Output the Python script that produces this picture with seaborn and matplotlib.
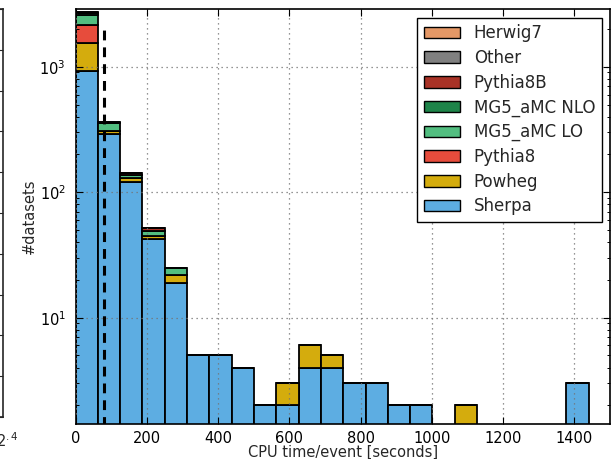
import numpy as np
import pandas as pd
import matplotlib
matplotlib.use("Agg")
import matplotlib.pyplot as plt
import seaborn as sns

# ---- data ----
bin_lo, bin_hi, n_bins = 0.0, 1440.0, 23
generators = ["Herwig7", "Other", "Pythia8B", "MG5_aMC NLO",
              "MG5_aMC LO", "Pythia8", "Powheg", "Sherpa"]
colors = ["#E59866", "#808080", "#A93226", "#1E8449",
          "#52BE80", "#E74C3C", "#D4AC0D", "#5DADE2"]

sherpa   = [920, 290, 120, 42, 19, 5, 5, 4, 2, 2, 4, 4, 3, 3, 2, 2, 0, 0, 0, 0, 0, 0, 3]
powheg   = [640, 15, 9, 3, 3, 0, 0, 0, 0, 1, 2, 1, 0, 0, 0, 0, 0, 2, 0, 0, 0, 0, 0]
pythia8  = [590, 0, 0, 0, 0, 0, 0, 0, 0, 0, 0, 0, 0, 0, 0, 0, 0, 0, 0, 0, 0, 0, 0]
mg5_lo   = [430, 50, 8, 4, 3, 0, 0, 0, 0, 0, 0, 0, 0, 0, 0, 0, 0, 0, 0, 0, 0, 0, 0]
mg5_nlo  = [110, 3, 0, 0, 0, 0, 0, 0, 0, 0, 0, 0, 0, 0, 0, 0, 0, 0, 0, 0, 0, 0, 0]
pythia8b = [15, 0, 5, 3, 0, 0, 0, 0, 0, 0, 0, 0, 0, 0, 0, 0, 0, 0, 0, 0, 0, 0, 0]
other    = [25, 2, 0, 0, 0, 0, 0, 0, 0, 0, 0, 0, 0, 0, 0, 0, 0, 0, 0, 0, 0, 0, 0]
herwig7  = [0] * 23

mean_cpu = 80.0
mean_line_top = 2000.0

counts = {"Herwig7": herwig7, "Other": other, "Pythia8B": pythia8b,
          "MG5_aMC NLO": mg5_nlo, "MG5_aMC LO": mg5_lo, "Pythia8": pythia8,
          "Powheg": powheg, "Sherpa": sherpa}

edges = np.linspace(bin_lo, bin_hi, n_bins + 1)
centers = 0.5 * (edges[:-1] + edges[1:])
rows = []
for g in generators:
    for c, n in zip(centers, counts[g]):
        rows.append({"cpu": c, "n": float(n), "generator": g})
df = pd.DataFrame(rows)

# ---- figure ----
sns.set_style("ticks")
plt.rcParams["font.family"] = ["DejaVu Sans"]
plt.rcParams["mathtext.fontset"] = "dejavusans"

W, H = 612, 459
fig = plt.figure(figsize=(W / 100, H / 100), dpi=100)
ax = fig.add_axes([75.5 / W, 1 - 424 / H, (610 - 75.5) / W, (424 - 9.3) / H])

sns.histplot(data=df, x="cpu", weights="n", hue="generator",
             hue_order=generators, palette=colors, bins=n_bins,
             binrange=(bin_lo, bin_hi),
             multiple="stack", alpha=1.0, edgecolor="black",
             linewidth=1.3, ax=ax)

ax.set_yscale("log")
ax.set_xlim(0, 1500)
ax.set_ylim(1.42, 2870)

ax.vlines(mean_cpu, 1e-3, mean_line_top, colors="black",
          linestyles=(0, (3.2, 2.3)), linewidth=2.2, zorder=5)

ax.grid(True, which="major", linestyle=(0, (1, 3)), color="0.45",
        linewidth=0.9, zorder=6)
ax.set_axisbelow(False)

ax.tick_params(which="both", direction="in", top=True, right=True,
               labelsize=10.5, colors="black")
ax.tick_params(which="major", length=5, width=0.8)
ax.tick_params(axis="x", which="major", pad=5)
ax.tick_params(axis="y", which="major", pad=7)
ax.tick_params(which="minor", length=2.5, width=0.7)
for s in ax.spines.values():
    s.set_linewidth(1.2)
    s.set_color("black")

ax.set_xlabel("CPU time/event [seconds]", fontsize=10.5)
ax.set_ylabel("#datasets", fontsize=10.5)
ax.xaxis.set_label_coords(0.5, -0.051)
ax.yaxis.set_label_coords(-0.072, 0.5)

# legend
old = ax.get_legend()
handles = list(old.legend_handles)
labels = [t.get_text() for t in old.get_texts()]
old.remove()
for h in handles:
    h.set_edgecolor("black")
    h.set_linewidth(1.0)
    h.set_alpha(1.0)
leg = ax.legend(handles, labels, loc="upper right",
                bbox_to_anchor=(0.985, 0.98), fontsize=12,
                fancybox=False, framealpha=1, edgecolor="black",
                handlelength=2.15, handleheight=0.7, handletextpad=0.85,
                labelspacing=0.4, borderpad=0.4, borderaxespad=0)
leg.get_frame().set_linewidth(1.0)
leg.set_zorder(10)

# partially visible neighbouring panel at the left edge
ax2 = fig.add_axes([-0.5, 1 - 417 / H, 0.5 + 2.5 / W, (417 - 9) / H])
ax2.set_xticks([])
ax2.set_yticks(np.linspace(0, 1, 11))
ax2.set_ylim(0, 1)
ax2.tick_params(direction="in", right=True, labelleft=False, length=4)
for s in ax2.spines.values():
    s.set_linewidth(1.2)
fig.text(-4 / W, 1 - 447 / H, r"$2^{.4}$", fontsize=10.5, va="baseline")

fig.savefig("out.png", dpi=100)
